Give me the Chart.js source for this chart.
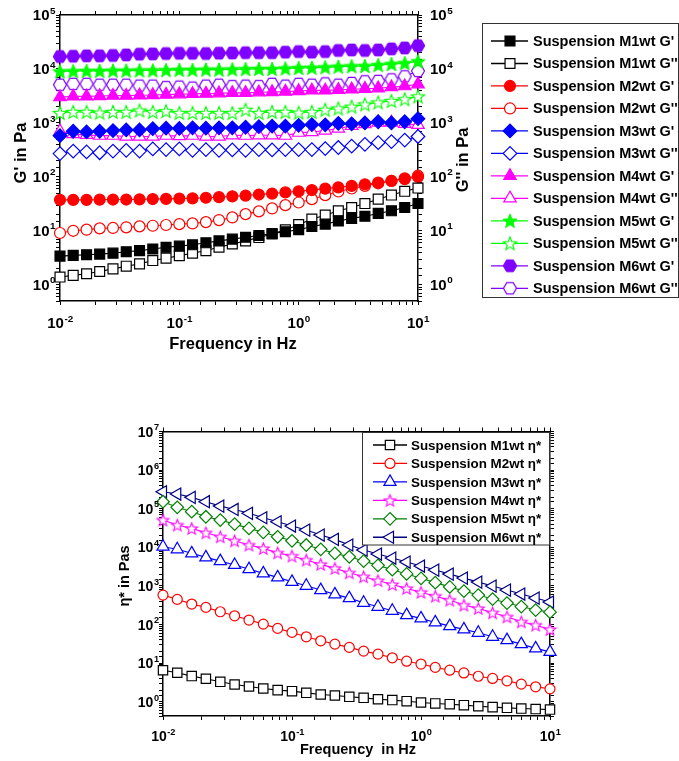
<!DOCTYPE html>
<html><head><meta charset="utf-8">
<script src="https://cdn.jsdelivr.net/npm/chart.js@4.4.0/dist/chart.umd.min.js"></script>
<style>
html,body{margin:0;padding:0;background:#fff;width:679px;height:761px;overflow:hidden}
#c1{position:absolute;left:0;top:0}
#c2{position:absolute;left:0;top:380px}
</style></head><body>
<canvas id="c1" width="679" height="380"></canvas>
<canvas id="c2" width="679" height="381"></canvas>
<script>
// ---------- DATA ----------
const freq = [0.01,0.0129,0.0167,0.0215,0.0278,0.0359,0.0464,0.0599,0.0774,0.1,0.129,0.167,0.215,0.278,0.359,0.464,0.599,0.774,1,1.29,1.67,2.15,2.78,3.59,4.64,5.99,7.74,10];

const m1G1 = [3.4,3.5,3.6,3.7,3.85,4.1,4.3,4.6,4.95,5.2,5.5,6.0,6.5,7.0,7.6,8.2,8.9,9.6,10.5,12.0,13.3,15.2,17.0,18.6,21,23.5,27,32];
const m1G2 = [1.39,1.49,1.6,1.76,1.97,2.21,2.44,2.81,3.11,3.47,3.85,4.3,4.96,5.7,6.5,7.5,8.7,10.4,13.0,16.5,19.5,23.5,27,32,38.6,46,54,62];
const m2G1 = [37.5,37.5,37.5,37.8,38,38,38.3,38.8,39,39.5,40,41,42,43.5,45,47,49,51.5,54,57,60.5,64,68,73,78,84,91,100];
const m2G2 = [9.1,10.0,10.5,11.1,11.3,11.6,12.1,12.4,12.8,13.3,13.7,14.5,15.8,17.7,20.4,22.9,26,29.9,33.5,38.6,45.8,53.5,60.8,68,76,84,94,105];
const m3G1 = [580,700,680,700,720,740,740,780,800,790,810,800,810,810,830,850,870,870,900,930,920,980,960,1000,1050,1000,1050,1200];
const m3G2 = [270,300,290,280,300,310,300,330,320,330,310,320,310,315,310,320,315,320,320,320,335,350,370,400,430,450,480,560];
const m4G1 = [3000,3100,3100,3150,3200,3200,3250,3300,3350,3400,3450,3500,3550,3600,3600,3700,3750,3800,3900,4000,4000,4100,4200,4300,4400,4600,4800,5200];
const m4G2 = [700,620,600,580,580,560,560,560,580,570,580,560,560,590,580,590,590,580,660,680,720,790,880,950,1020,1020,960,920];
const m5G1 = [9000,9100,9200,9200,9300,9300,9400,9400,9500,9600,9600,9700,9700,9800,9900,10000,10000,10200,10400,10500,10700,11000,11200,11300,11800,12300,12800,13800];
const m5G2 = [1530,1600,1600,1550,1600,1600,1700,1600,1650,1530,1530,1530,1530,1530,1750,1530,1600,1600,1550,1600,1750,1850,2000,2200,2400,2550,2750,3100];
const m6G1 = [17000,17200,17500,17500,17800,18200,18800,19000,19300,19500,19500,19300,19600,19800,20000,20000,20000,20500,21000,20500,21000,22000,22500,22000,22500,23500,24500,27000];
const m6G2 = [5100,5300,5300,5100,5100,5100,4900,4900,4600,4700,4500,4900,5100,4800,4900,4800,5300,4900,5300,5100,5400,5100,5500,5900,6000,6400,7300,9200];

const m1Eta = [6.6,5.65,4.64,3.95,3.3,2.82,2.5,2.22,2.01,1.89,1.71,1.55,1.46,1.35,1.27,1.17,1.11,1.04,0.96,0.91,0.87,0.82,0.77,0.73,0.70,0.67,0.65,0.63];
const m2Eta = [581,450,340,279,215,169,131,103,79.8,62.8,48.3,38.0,31.2,25.7,20.6,17.2,13.8,11.3,9.5,7.8,6.6,5.6,4.6,4.04,3.5,2.87,2.45,2.17];
const m3Eta = [10400,8900,7000,5500,4400,3500,2740,2120,1670,1280,1010,783,606,485,367,289,228,176,145,114,91.5,75.1,61.4,48.3,39.6,31.2,24.2,19.7];
const m4Eta = [51000,37800,31000,23900,18800,14800,11500,9400,7200,5960,4690,3630,2860,2200,1740,1380,1090,867,687,545,431,320,263,202,159,118,97,75];
const m5Eta = [152000,109000,84000,62000,51000,40000,31000,24500,18800,14800,11500,8900,7000,5700,4420,3420,2640,2050,1580,1220,948,738,581,458,361,293,238,210];
const m6Eta = [275000,240000,197000,152000,117000,96000,76000,58500,46000,35600,28000,20800,16100,11500,8500,6700,5280,4160,3280,2580,2030,1600,1260,994,783,617,486,383];

const topLabels = ["Suspension M1wt G'","Suspension M1wt G''","Suspension M2wt G'","Suspension M2wt G''","Suspension M3wt G'","Suspension M3wt G''","Suspension M4wt G'","Suspension M4wt G''","Suspension M5wt G'","Suspension M5wt G''","Suspension M6wt G'","Suspension M6wt G''"];
const botLabels = ["Suspension M1wt \u03b7*","Suspension M2wt \u03b7*","Suspension M3wt \u03b7*","Suspension M4wt \u03b7*","Suspension M5wt \u03b7*","Suspension M6wt \u03b7*"];

// ---------- STYLE ----------
const FONT = "'Liberation Sans', Arial, Helvetica, sans-serif";
function polyCanvas(pts, size, fill, stroke, lw){
  const c = document.createElement('canvas'); c.width = size; c.height = size;
  const g = c.getContext('2d');
  g.beginPath(); pts.forEach((p,i)=> i ? g.lineTo(p[0],p[1]) : g.moveTo(p[0],p[1])); g.closePath();
  g.fillStyle = fill; g.fill();
  if (lw) { g.lineWidth = lw; g.strokeStyle = stroke; g.stroke(); }
  return c;
}
function hexPts(size, r){ const c = size/2, p = []; for (let k=0;k<6;k++){ const a = Math.PI/3*k; p.push([c + r*Math.cos(a), c + r*Math.sin(a)]); } return p; }
function starPts(size, ro, ri){ const c = size/2, p = []; for (let k=0;k<10;k++){ const a = -Math.PI/2 + k*Math.PI/5; const r = k%2 ? ri : ro; p.push([c + r*Math.cos(a), c + r*Math.sin(a) + 0.6]); } return p; }

const COL = {black:'#000000', red:'#ff0000', blue:'#0000ff', magenta:'#ff00ff', green:'#00ff00', purple:'#8000ff', dgreen:'#008000', navy:'#000080'};
const hexFill = polyCanvas(hexPts(16,6.8),16,COL.purple,COL.purple,1);
const hexOpen = polyCanvas(hexPts(16,6.5),16,'#ffffff',COL.purple,1.2);
const starFill = polyCanvas(starPts(18,7.5,3.2),18,COL.green,COL.green,1);
const starOpen = polyCanvas(starPts(18,7,3.0),18,'#ffffff',COL.green,1.1);
const starMag = polyCanvas(starPts(15,6.2,2.7),15,'#ffffff',COL.magenta,1.1);

function ds(label, arr, color, style, radius, filled, rot){
  return {
    label, data: freq.map((f,i)=>({x:f, y:arr[i]})),
    borderColor: color, borderWidth: 1.1, fill:false, tension:0, clip:false,
    pointStyle: style, pointRadius: radius, pointHoverRadius: radius, pointRotation: rot||0,
    pointBackgroundColor: filled ? color : '#ffffff', pointBorderColor: color, pointBorderWidth: 1.2
  };
}
function logAxis(pos, min, max, size){
  const horiz = (pos === 'top' || pos === 'bottom');
  return {
    type:'logarithmic', position:pos, min, max,
    afterFit: s => { if (horiz) s.height = size; else s.width = size; },
    border:{display:true, color:'#000', width:1.5},
    grid:{display:true, drawOnChartArea:false, drawTicks:true, tickLength:4, color:'#000', lineWidth:1},
    ticks:{display:false, autoSkip:false, maxRotation:0, minRotation:0},
    title:{display:false}
  };
}
// decade tick labels "10" with raised exponent, placed through the scale
function drawDecades(chart, id, mode, fs, gap){
  const s = chart.scales[id], ctx = chart.ctx, a = chart.chartArea;
  const lo = Math.ceil(Math.log10(s.min) - 1e-9), hi = Math.floor(Math.log10(s.max) + 1e-9);
  const fBase = 'bold ' + fs + 'px ' + FONT, fExp = 'bold ' + (fs*0.66).toFixed(1) + 'px ' + FONT;
  ctx.save(); ctx.fillStyle = '#000'; ctx.textBaseline = 'alphabetic'; ctx.textAlign = 'left';
  for (let e = lo; e <= hi; e++){
    const p = s.getPixelForValue(Math.pow(10, e));
    const ex = String(e);
    ctx.font = fBase; const w1 = ctx.measureText('10').width;
    ctx.font = fExp; const w2 = ctx.measureText(ex).width;
    const cap = 0.716*fs;
    let x0, yc;
    if (mode === 'left') { x0 = a.left - gap - w1 - w2 - 0.5; yc = p; }
    else if (mode === 'right') { x0 = a.right + gap; yc = p; }
    else { x0 = p - (w1 + w2)/2; yc = a.bottom + gap; }
    const base = yc + cap/2;
    ctx.font = fBase; ctx.fillText('10', x0, base);
    ctx.font = fExp; ctx.fillText(ex, x0 + w1 + 0.5, base - 0.45*fs);
  }
  ctx.restore();
}
function drawMarker(ctx, d, x, y){
  ctx.fillStyle = d.pointBackgroundColor; ctx.strokeStyle = d.pointBorderColor; ctx.lineWidth = d.pointBorderWidth;
  if (Chart.helpers && Chart.helpers.drawPoint) {
    Chart.helpers.drawPoint(ctx, {pointStyle:d.pointStyle, rotation:d.pointRotation||0, radius:d.pointRadius, borderWidth:d.pointBorderWidth}, x, y);
  }
}
function drawLegend(ctx, datasets, o){
  ctx.save();
  ctx.fillStyle = '#fff'; ctx.fillRect(o.bx, o.by, o.bw, o.bh);
  ctx.strokeStyle = '#333'; ctx.lineWidth = 1; ctx.strokeRect(o.bx, o.by, o.bw, o.bh);
  ctx.font = 'bold ' + o.fs + 'px ' + FONT; ctx.textAlign = 'left'; ctx.textBaseline = 'middle';
  datasets.forEach((d,i)=>{
    const y = o.y0 + i*o.dy;
    ctx.strokeStyle = d.borderColor; ctx.lineWidth = 1.3;
    ctx.beginPath(); ctx.moveTo(o.lx1, y); ctx.lineTo(o.lx2, y); ctx.stroke();
    drawMarker(ctx, d, o.mx, y);
    ctx.fillStyle = '#000'; ctx.fillText(d.label, o.tx, y + 1);
  });
  ctx.restore();
}
function vText(ctx, txt, x, y){ ctx.save(); ctx.translate(x,y); ctx.rotate(-Math.PI/2); ctx.fillText(txt,0,0); ctx.restore(); }

// ---------- TOP CHART ----------
const topSets = [
  ds(topLabels[0], m1G1, COL.black, 'rect', 7, true),
  ds(topLabels[1], m1G2, COL.black, 'rect', 7, false),
  ds(topLabels[2], m2G1, COL.red, 'circle', 5.5, true),
  ds(topLabels[3], m2G2, COL.red, 'circle', 5.5, false),
  ds(topLabels[4], m3G1, COL.blue, 'rectRot', 6.8, true),
  ds(topLabels[5], m3G2, COL.blue, 'rectRot', 6.8, false),
  ds(topLabels[6], m4G1, COL.magenta, 'triangle', 7.2, true),
  ds(topLabels[7], m4G2, COL.magenta, 'triangle', 7.2, false),
  ds(topLabels[8], m5G1, COL.green, starFill, 7, true),
  ds(topLabels[9], m5G2, COL.green, starOpen, 7, false),
  ds(topLabels[10], m6G1, COL.purple, hexFill, 7, true),
  ds(topLabels[11], m6G2, COL.purple, hexOpen, 7, false)
];
new Chart(document.getElementById('c1'), {
  type:'line',
  data:{datasets: topSets},
  options:{
    responsive:false, animation:false, devicePixelRatio:1, events:[],
    layout:{padding:{left:0, right:211, top:0, bottom:0}},
    plugins:{legend:{display:false}, tooltip:{enabled:false}},
    scales:{
      x: logAxis('bottom', 0.01, 10, 79),
      x2: logAxis('top', 0.01, 10, 15),
      y: logAxis('left', 0.5, 1e5, 60),
      y2: logAxis('right', 0.5, 1e5, 50)
    }
  },
  plugins:[{id:'decorTop', afterDraw(chart){
    const ctx = chart.ctx;
    drawDecades(chart, 'y', 'left', 15, 4.5);
    drawDecades(chart, 'y2', 'right', 15, 12);
    drawDecades(chart, 'x', 'bottom', 15, 22);
    ctx.save();
    ctx.fillStyle = '#000'; ctx.font = 'bold 16.5px ' + FONT; ctx.textAlign = 'center'; ctx.textBaseline = 'middle';
    vText(ctx, "G' in Pa", 21, 153);
    vText(ctx, "G'' in Pa", 463, 160);
    ctx.fillText('Frequency in Hz', 233, 344);
    ctx.restore();
    drawLegend(ctx, chart.data.datasets, {bx:482.5, by:23.5, bw:196, bh:274, y0:41, dy:22.48, lx1:491, lx2:528, mx:510, tx:533, fs:14.5});
  }}]
});

// ---------- BOTTOM CHART ----------
const botSets = [
  ds(botLabels[0], m1Eta, COL.black, 'rect', 6.6, false),
  ds(botLabels[1], m2Eta, COL.red, 'circle', 5, false),
  ds(botLabels[2], m3Eta, COL.blue, 'triangle', 7, false),
  ds(botLabels[3], m4Eta, COL.magenta, starMag, 6, false),
  ds(botLabels[4], m5Eta, COL.dgreen, 'rectRot', 6.3, false),
  ds(botLabels[5], m6Eta, COL.navy, 'triangle', 7, false, -90)
];
new Chart(document.getElementById('c2'), {
  type:'line',
  data:{datasets: botSets},
  options:{
    responsive:false, animation:false, devicePixelRatio:1, events:[],
    layout:{padding:{left:0, right:119, top:0, bottom:0}},
    plugins:{legend:{display:false}, tooltip:{enabled:false}},
    scales:{
      x: logAxis('bottom', 0.01, 10, 45),
      x2: logAxis('top', 0.01, 10, 51.5),
      y: logAxis('left', 0.43, 1e7, 163),
      y2: logAxis('right', 0.43, 1e7, 10)
    }
  },
  plugins:[{id:'decorBot', afterDraw(chart){
    const ctx = chart.ctx;
    drawDecades(chart, 'y', 'left', 14, 4);
    drawDecades(chart, 'x', 'bottom', 14, 20);
    ctx.save();
    ctx.fillStyle = '#000'; ctx.font = 'bold 14.5px ' + FONT; ctx.textAlign = 'center'; ctx.textBaseline = 'middle';
    vText(ctx, '\u03b7* in Pas', 125, 196);
    ctx.fillText('Frequency  in Hz', 358, 370);
    ctx.restore();
    drawLegend(ctx, chart.data.datasets, {bx:362.5, by:52.5, bw:187, bh:112.5, y0:65, dy:18.45, lx1:373, lx2:407, mx:390, tx:411, fs:13.4});
  }}]
});
</script></body></html>
